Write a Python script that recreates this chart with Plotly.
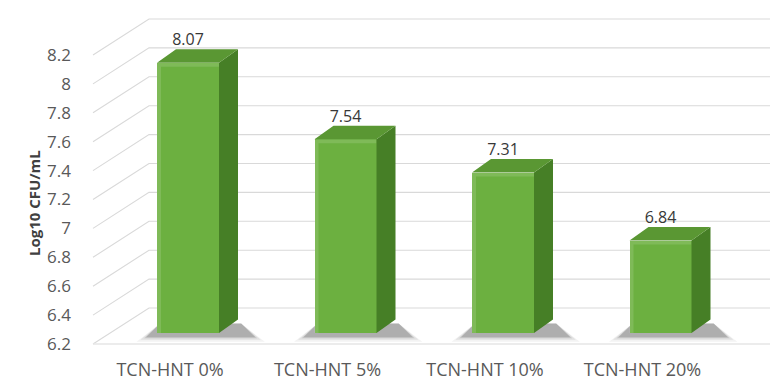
import plotly.graph_objects as go

# ---- data -------------------------------------------------------------
categories = ["TCN-HNT 0%", "TCN-HNT 5%", "TCN-HNT 10%", "TCN-HNT 20%"]
cfu_log10 = [8.07, 7.54, 7.31, 6.84]
y_tick_vals = [6.2, 6.4, 6.6, 6.8, 7.0, 7.2, 7.4, 7.6, 7.8, 8.0, 8.2]
y_tick_text = ["6.2", "6.4", "6.6", "6.8", "7", "7.2", "7.4", "7.6", "7.8", "8", "8.2"]
y_title = "Log10 CFU/mL"

# ---- geometry of the pseudo-3D column chart (pixels) -------------------
W, H = 770, 382
M_L, M_R, M_T, M_B = 92, 0, 0, 32
plot_w = W - M_L - M_R
plot_h = H - M_T - M_B

Y_BASE = 6.2
PX_PER_Y = 144.5          # pixels per log unit
PX_PER_X = 157.5          # pixels per category step
BASE_ABOVE_BOTTOM = 6     # floor front edge above plot bottom
FIRST_CAT_PX = 78         # first category label from plot left

BAR_PLANE = (18, 11)      # bar front faces sit this far back (right, up)
BAR_DEPTH = (19, 13.5)    # depth of each column
WALL_DEPTH = (56, 36)     # back wall offset from the front of the floor
BAR_W = 62 / PX_PER_X

FRONT = "#6cb040"
SIDE = "#467f26"
TOP = "#5a9733"
GRID = "#d9d9d9"
TEXT = "#595959"
FONT = "Open Sans"

x_range = [-FIRST_CAT_PX / PX_PER_X, (plot_w - FIRST_CAT_PX) / PX_PER_X]
y_range = [Y_BASE - BASE_ABOVE_BOTTOM / PX_PER_Y,
           Y_BASE + (plot_h - BASE_ABOVE_BOTTOM) / PX_PER_Y]
px_off = BAR_PLANE[0] / PX_PER_X
py_off = BAR_PLANE[1] / PX_PER_Y
x2_range = [v - px_off for v in x_range]
y2_range = [v - py_off for v in y_range]

dx = BAR_DEPTH[0] / PX_PER_X
dy = BAR_DEPTH[1] / PX_PER_Y
wx = WALL_DEPTH[0] / PX_PER_X
wy = WALL_DEPTH[1] / PX_PER_Y
x_left = x_range[0] + 1 / PX_PER_X

fig = go.Figure()

# side wall and back wall gridlines
gx, gy = [], []
for v in y_tick_vals:
    gx += [x_left, x_left + wx, x_range[1], None]
    gy += [v, v + wy, v + wy, None]
fig.add_trace(go.Scatter(x=gx, y=gy, mode="lines", line=dict(color=GRID, width=1.1),
                         hoverinfo="skip", showlegend=False))
# front edge of the floor
fig.add_trace(go.Scatter(x=[x_left, x_range[1]], y=[Y_BASE, Y_BASE], mode="lines",
                         line=dict(color="#e6e6e6", width=1.5),
                         hoverinfo="skip", showlegend=False))

idx = list(range(len(categories)))

# soft floor shadows under the columns (floor plane, below the column layer)
for spread, alpha in [(0.06, 0.06), (0.035, 0.09), (0.012, 0.13), (0.0, 0.18)]:
    sx, sy = [], []
    for i in idx:
        l, r = i - BAR_W / 2 + px_off, i + BAR_W / 2 + px_off
        b = Y_BASE + py_off
        sx += [l - 0.07 - spread, r + dx + 0.11 + spread, r + dx + 0.02, l + 0.02, None]
        sy += [b - 0.03 - spread * 0.5, b - 0.03 - spread * 0.5,
               b + dy * 0.7, b + dy * 0.7, None]
    fig.add_trace(go.Scatter(x=sx, y=sy, mode="lines",
                             fill="toself", fillcolor=f"rgba(50,50,50,{alpha})",
                             line=dict(width=0), hoverinfo="skip", showlegend=False))

# front faces
fig.add_trace(go.Bar(x=idx, y=[v - Y_BASE for v in cfu_log10], base=Y_BASE,
                     xaxis="x2", yaxis="y2", width=BAR_W,
                     marker=dict(color=FRONT, line=dict(width=0)),
                     customdata=cfu_log10, hovertemplate="%{customdata}<extra></extra>",
                     showlegend=False))

# bevel highlight along the left and top edges of each front face
hx, hy = [], []
e_x = 4 / PX_PER_X
e_y = 4 / PX_PER_Y
for i, v in zip(idx, cfu_log10):
    l, r = i - BAR_W / 2, i + BAR_W / 2
    hx += [l, l, r, r, l + e_x, l + e_x, l, None]
    hy += [Y_BASE, v, v, v - e_y, v - e_y, Y_BASE, Y_BASE, None]
fig.add_trace(go.Scatter(x=hx, y=hy, xaxis="x2", yaxis="y2", mode="lines",
                         fill="toself", fillcolor="rgba(255,255,255,0.13)", line=dict(width=0),
                         hoverinfo="skip", showlegend=False))

# side faces
sx, sy = [], []
for i, v in zip(idx, cfu_log10):
    r = i + BAR_W / 2
    sx += [r, r + dx, r + dx, r, r, None]
    sy += [Y_BASE, Y_BASE + dy, v + dy, v, Y_BASE, None]
fig.add_trace(go.Scatter(x=sx, y=sy, xaxis="x2", yaxis="y2", mode="lines",
                         fill="toself", fillcolor=SIDE, line=dict(width=0),
                         hoverinfo="skip", showlegend=False))

# top faces
tx, ty = [], []
for i, v in zip(idx, cfu_log10):
    l, r = i - BAR_W / 2, i + BAR_W / 2
    tx += [l, l + dx, r + dx, r, l, None]
    ty += [v, v + dy, v + dy, v, v, None]
fig.add_trace(go.Scatter(x=tx, y=ty, xaxis="x2", yaxis="y2", mode="lines",
                         fill="toself", fillcolor=TOP, line=dict(width=0),
                         hoverinfo="skip", showlegend=False))

# value labels, centred over the front face
fig.add_trace(go.Scatter(x=idx, y=[v + dy for v in cfu_log10],
                         xaxis="x2", yaxis="y2", mode="text",
                         text=[f"{v:.2f}" for v in cfu_log10], textposition="top center",
                         textfont=dict(family=FONT, size=16, color="#383838"),
                         hoverinfo="skip", showlegend=False))

fig.update_layout(
    width=W, height=H,
    margin=dict(l=M_L, r=M_R, t=M_T, b=M_B),
    paper_bgcolor="white", plot_bgcolor="white",
    bargap=0,
    xaxis=dict(range=x_range, tickmode="array", tickvals=idx, ticktext=categories,
               showgrid=False, zeroline=False, showline=False, ticks="",
               ticklabelstandoff=7,
               tickfont=dict(family=FONT, size=18, color=TEXT)),
    yaxis=dict(range=y_range, tickmode="array", tickvals=y_tick_vals, ticktext=y_tick_text,
               showgrid=False, zeroline=False, showline=False, ticks="",
               ticklabelstandoff=20,
               tickfont=dict(family=FONT, size=17, color=TEXT)),
    xaxis2=dict(range=x2_range, overlaying="x", anchor="y2", visible=False),
    yaxis2=dict(range=y2_range, overlaying="y", anchor="x2", visible=False),
    annotations=[dict(text=f"<b>{y_title}</b>", textangle=-90, xref="paper", yref="paper",
                      x=(22 - M_L) / plot_w, y=(plot_h - 203 + M_T) / plot_h,
                      showarrow=False, font=dict(family=FONT, size=15, color="#404040"))],
)

fig.write_html("out.html")
